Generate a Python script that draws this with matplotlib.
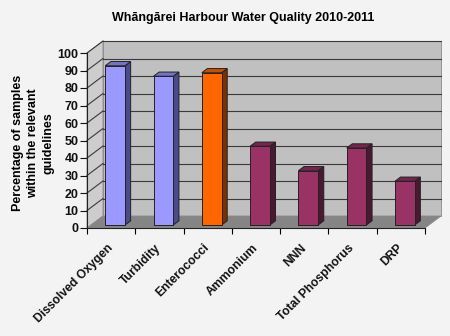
import matplotlib
matplotlib.use("Agg")
import numpy as np
from matplotlib import pyplot as plt
from matplotlib.patches import Polygon

plt.rcParams["font.family"] = ["Liberation Sans", "DejaVu Sans"]
plt.rcParams["font.weight"] = "bold"

# Data
categories = [
    "Dissolved Oxygen",
    "Turbidity",
    "Enterococci",
    "Ammonium",
    "NNN",
    "Total Phosphorus",
    "DRP",
]
values = [91, 85, 87, 45, 31, 44, 25]
groups = ["field", "field", "bacteria", "nutrient", "nutrient", "nutrient", "nutrient"]

# face colours per group: (front, side, top)
palette = {
    "field": ("#9999FF", "#4B4B8C", "#7373C8"),
    "bacteria": ("#FF6600", "#7A3000", "#C84F00"),
    "nutrient": ("#993366", "#4A1830", "#74264C"),
}

W, H, DPI = 450, 336, 100
# front plane of the plot in pixels
left_px, right_px, bottom_px, top_px = 87, 425, 228, 53
depth_px = (16, 12)  # how far the back wall sits from the front plane

fig = plt.figure(figsize=(W / DPI, H / DPI), dpi=DPI, facecolor="#F3F3F3")
ax = fig.add_axes(
    [left_px / W, 1 - bottom_px / H, (right_px - left_px) / W, (bottom_px - top_px) / H]
)
n = len(categories)
ax.set_xlim(0, n)
ax.set_ylim(0, 100)
ax.set_facecolor("none")

# depth offset in data units
ddx = depth_px[0] * n / (right_px - left_px)
ddy = depth_px[1] * 100 / (bottom_px - top_px)

edge = "#3A3A3A"
# back wall, left wall and floor
walls = [
    ([(ddx, ddy), (n + ddx, ddy), (n + ddx, 100 + ddy), (ddx, 100 + ddy)], "#C0C0C0"),
    ([(0, 0), (ddx, ddy), (ddx, 100 + ddy), (0, 100)], "#CDCDCD"),
    ([(0, 0), (n, 0), (n + ddx, ddy), (ddx, ddy)], "#858585"),
]
for pts, col in walls:
    ax.add_patch(Polygon(pts, closed=True, facecolor=col, edgecolor="#8A8A8A",
                         lw=0.6, clip_on=False, zorder=1))

# gridlines on the walls
for v in range(10, 101, 10):
    ax.plot([ddx, n + ddx], [v + ddy, v + ddy], color=edge, lw=0.8,
            clip_on=False, zorder=2)
    ax.plot([0, ddx], [v, v + ddy], color=edge, lw=0.8, clip_on=False, zorder=2)

# 3D bars, standing in the middle of the depth
bar_w = 0.41
f0, f1 = 0.25, 0.6
for i, (v, g) in enumerate(zip(values, groups)):
    front, side, top = palette[g]
    x0 = i + 0.5 - bar_w / 2 + f0 * ddx
    x1 = x0 + bar_w
    y0 = f0 * ddy
    ox, oy = (f1 - f0) * ddx, (f1 - f0) * ddy
    faces = [
        ([(x1, y0), (x1 + ox, y0 + oy), (x1 + ox, v + y0 + oy), (x1, v + y0)], side),
        ([(x0, v + y0), (x1, v + y0), (x1 + ox, v + y0 + oy), (x0 + ox, v + y0 + oy)], top),
        ([(x0, y0), (x1, y0), (x1, v + y0), (x0, v + y0)], front),
    ]
    for pts, col in faces:
        ax.add_patch(Polygon(pts, closed=True, facecolor=col, edgecolor="#222222",
                             lw=0.7, clip_on=False, zorder=3))

# axes lines
for s in ["top", "right"]:
    ax.spines[s].set_visible(False)
ax.spines["left"].set_color("#222222")
ax.spines["bottom"].set_color("#222222")
ax.spines["left"].set_zorder(4)
ax.spines["bottom"].set_zorder(4)

ax.set_yticks(range(0, 101, 10))
ax.tick_params(axis="y", direction="out", length=5, width=0.8, pad=1,
               labelsize=9, colors="#111111")
ax.set_xticks(range(n + 1))
ax.set_xticklabels([])
ax.tick_params(axis="x", which="major", direction="out", length=4, width=0.8)
ax.set_xticks(np.arange(n) + 0.5, minor=True)
ax.set_xticklabels(categories, minor=True, rotation=45, ha="right", va="center",
                   rotation_mode="anchor", fontsize=8.7, color="#111111")
ax.tick_params(axis="x", which="minor", length=0, pad=13)

fig.text(243 / W, 1 - 18 / H, "Whāngārei Harbour Water Quality 2010-2011",
         ha="center", va="center", fontsize=9, fontweight="bold")
fig.text(33 / W, 1 - 143 / H, "Percentage of samples\nwithin the relevant\nguidelines",
         rotation=90, ha="center", va="center", multialignment="center",
         fontsize=9, fontweight="bold", linespacing=1.35)

fig.savefig("out.png", dpi=DPI, facecolor=fig.get_facecolor())
